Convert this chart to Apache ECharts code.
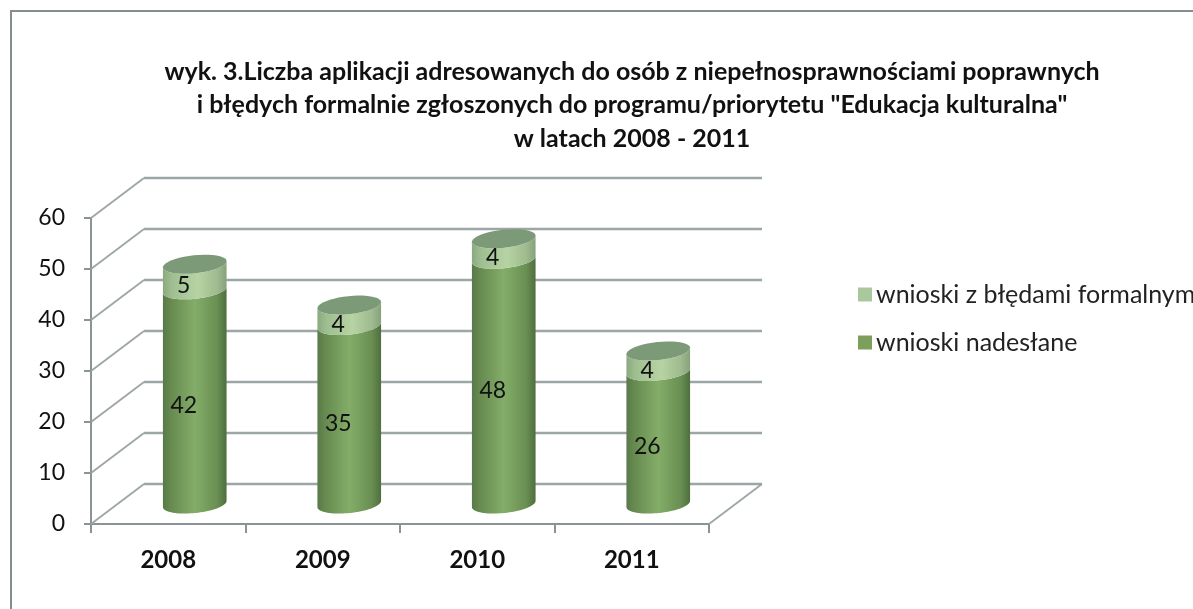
<!DOCTYPE html>
<html><head><meta charset="utf-8">
<script src="https://cdn.jsdelivr.net/npm/echarts@6/dist/echarts.min.js"></script>
<style>html,body{margin:0;padding:0;background:#fff;overflow:hidden}#c{width:1193px;height:609px}</style>
</head><body><div id="c"></div>
<script>
const categories = ['2008', '2009', '2010', '2011'];
const nadeslane = [42, 35, 48, 26];
const bledy = [5, 4, 4, 4];
const yTicks = [0, 10, 20, 30, 40, 50, 60];
const titleLines = [
  'wyk. 3.Liczba aplikacji adresowanych do osób z niepełnosprawnościami poprawnych',
  'i błędych formalnie zgłoszonych do programu/priorytetu "Edukacja kulturalna"',
  'w latach 2008 - 2011'
];
const nameBledy = 'wnioski z błędami formalnym';
const nameNadeslane = 'wnioski nadesłane';

const DX = 53, DY = 40, RX = 32, RY = 9, TILT = -6 * Math.PI / 180;
const FONT = 'Lato';
const AXIS = '#8a9494', GRIDC = '#9da6a6';

function ell(cx, cy, t) {
  const a = RX * Math.cos(t), b = RY * Math.sin(t);
  return [cx + a * Math.cos(TILT) - b * Math.sin(TILT), cy + a * Math.sin(TILT) + b * Math.cos(TILT)];
}
function arc(cx, cy, t0, t1) {
  const pts = [];
  for (let i = 0; i <= 40; i++) pts.push(ell(cx, cy, t0 + (t1 - t0) * i / 40));
  return pts;
}
const grad = (stops) => new echarts.graphic.LinearGradient(0, 0, 1, 0, stops.map((c, i) => ({offset: c[0], color: c[1]})));

function cylinder(params, api, colors, capColor) {
  const i = api.value(0), base = api.value(1), top = api.value(2);
  const c0 = api.coord([i, base]), c1 = api.coord([i, top]);
  const cx = c0[0] + DX / 2, y0 = c0[1] - DY / 2, y1 = c1[1] - DY / 2;
  const body = arc(cx, y0, 0, Math.PI).reverse().concat(arc(cx, y1, Math.PI, 0).reverse());
  const children = [{
    type: 'polygon', shape: {points: body}, style: {fill: grad(colors)}
  }];
  if (capColor) children.push({
    type: 'polygon', shape: {points: arc(cx, y1, 0, Math.PI * 2)}, style: {fill: capColor}
  });
  const midY = api.coord([i, (base + top) / 2])[1] - DY / 2;
  children.push({
    type: 'text', z2: 10,
    style: {x: cx - 11, y: midY + 9, text: String(top - base), align: 'center', verticalAlign: 'middle',
      fill: '#111', font: '23px ' + FONT}
  });
  return {type: 'group', children};
}

const rowsN = nadeslane.map((v, i) => [i, 0, v]);
const rowsB = bledy.map((v, i) => [i, nadeslane[i], nadeslane[i] + v]);
const lowerStops = [[0, '#59794a'], [0.12, '#668a4f'], [0.5, '#84ad69'], [0.85, '#698f52'], [1, '#4f6f3e']];
const upperStops = [[0, '#8aa97f'], [0.15, '#a0bf91'], [0.55, '#b6d3a3'], [0.85, '#9fbb8f'], [1, '#87a27c']];

const option = {
  animation: false,
  backgroundColor: '#fff',
  title: {
    text: titleLines.join('\n'), left: 627, top: 50, textAlign: 'center',
    textStyle: {fontFamily: FONT, fontWeight: 'bold', fontSize: 25, lineHeight: 33.5, color: '#111'}
  },
  legend: {
    data: [nameBledy, nameNadeslane], orient: 'vertical', left: 853, top: 277,
    itemWidth: 14, itemHeight: 14, itemGap: 23, icon: 'rect',
    textStyle: {fontFamily: FONT, fontSize: 25, color: '#222', padding: [0, 0, 0, -1]}
  },
  grid: {left: 91, right: 484, top: 218, bottom: 85},
  xAxis: {
    type: 'category', data: categories, boundaryGap: true,
    axisLine: {lineStyle: {color: AXIS, width: 2}},
    axisTick: {show: true, alignWithLabel: false, length: 9, lineStyle: {color: AXIS, width: 2}},
    axisLabel: {fontFamily: FONT, fontWeight: 'bold', fontSize: 24, color: '#111', margin: 24},
    splitLine: {show: false}
  },
  yAxis: {
    type: 'value', min: 0, max: 60, interval: 10,
    axisLine: {show: true, lineStyle: {color: AXIS, width: 2}},
    axisTick: {show: true, length: 7, lineStyle: {color: AXIS, width: 2}},
    axisLabel: {fontFamily: FONT, fontSize: 23, color: '#111', margin: 26},
    splitLine: {show: false}
  },
  graphic: [{
    type: 'rect', silent: true, z: -1,
    shape: {x: 11, y: 11, width: 1400, height: 800},
    style: {fill: 'none', stroke: '#858e8e', lineWidth: 2}
  }],
  series: [
    {
      type: 'custom', name: 'siatka', silent: true, z: 1, clip: false,
      data: yTicks.map(v => [v]),
      encode: {y: 0},
      renderItem(params, api) {
        const v = api.value(0);
        const cs = params.coordSys;
        const y = api.coord([0, v])[1];
        const bx0 = cs.x + DX, by = y - DY, bx1 = cs.x + cs.width + DX;
        const kids = [
          {type: 'line', shape: {x1: cs.x, y1: y, x2: bx0, y2: by}, style: {stroke: GRIDC, lineWidth: 1.8}},
          {type: 'line', shape: {x1: bx0, y1: by, x2: bx1, y2: by}, style: {stroke: GRIDC, lineWidth: 2.6}}
        ];
        if (v === 0) kids.push({type: 'line', shape: {x1: cs.x + cs.width, y1: y, x2: bx1, y2: by}, style: {stroke: GRIDC, lineWidth: 1.8}});
        return {type: 'group', children: kids};
      }
    },
    {
      type: 'custom', name: nameNadeslane, z: 2, silent: true, clip: false,
      itemStyle: {color: '#7c9f5c'},
      data: rowsN, encode: {x: 0, y: [1, 2]},
      renderItem: (p, a) => cylinder(p, a, lowerStops, null)
    },
    {
      type: 'custom', name: nameBledy, z: 3, silent: true, clip: false,
      itemStyle: {color: '#a9c89b'},
      data: rowsB, encode: {x: 0, y: [1, 2]},
      renderItem: (p, a) => cylinder(p, a, upperStops, '#7c9a78')
    }
  ]
};
echarts.init(document.getElementById('c'), null, {renderer: 'canvas'}).setOption(option);
</script></body></html>
